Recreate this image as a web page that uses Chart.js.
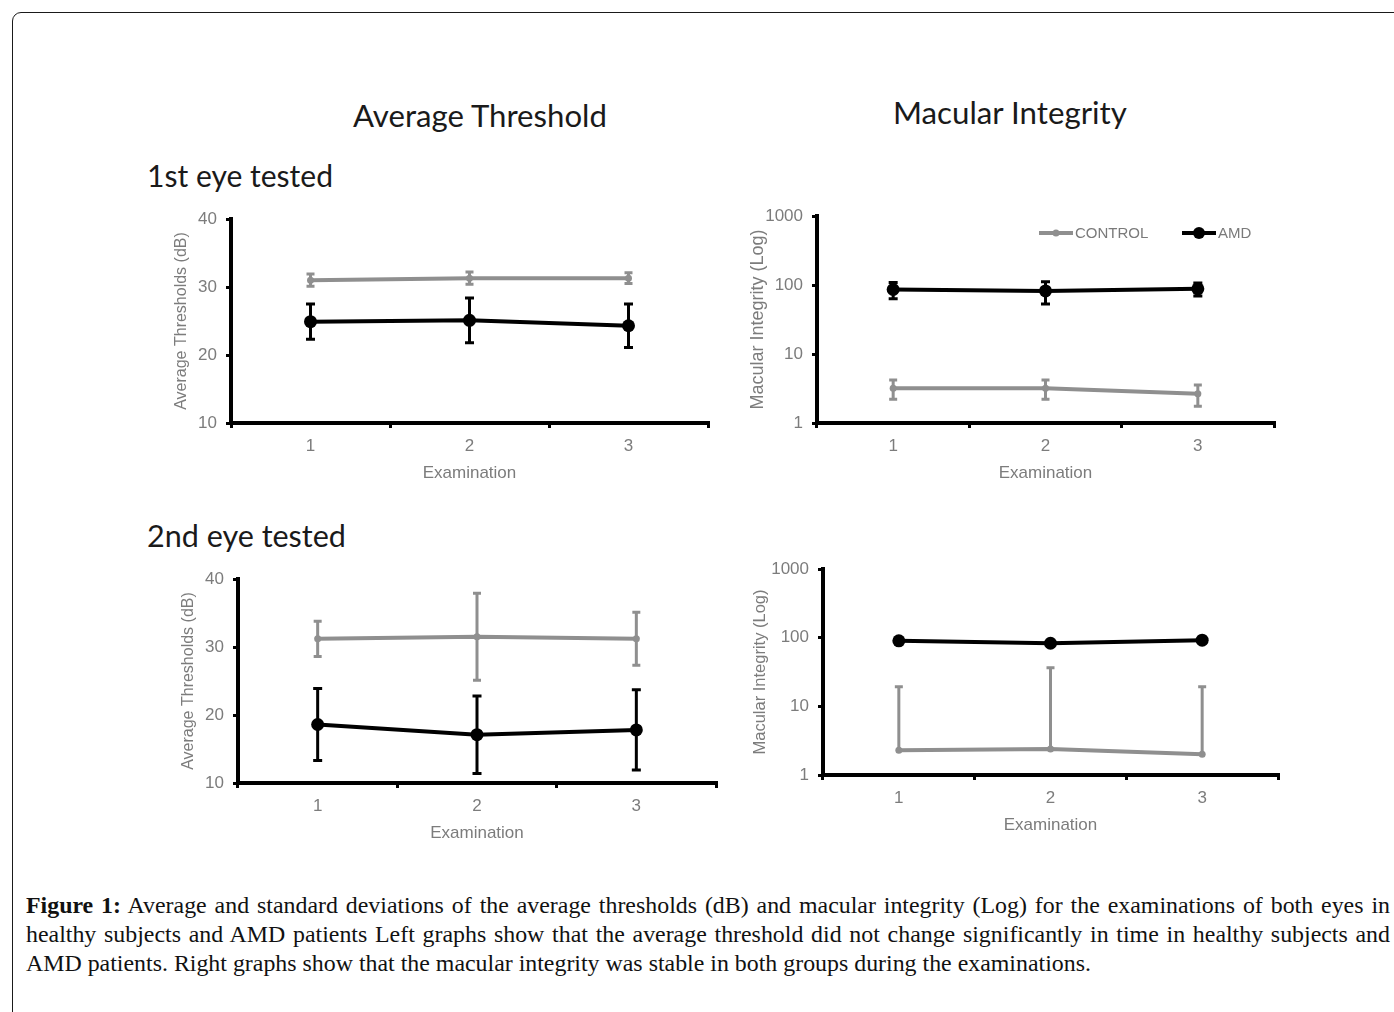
<!DOCTYPE html>
<html><head><meta charset="utf-8">
<script src="https://cdn.jsdelivr.net/npm/chart.js@4.4.1/dist/chart.umd.min.js"></script>
<style>
html,body{margin:0;padding:0;background:#fff;}
body{width:1394px;height:1012px;overflow:hidden;position:relative;}
.frame{position:absolute;left:12px;top:12px;width:1420px;height:1100px;border:1.5px solid #1a1a1a;border-radius:9px;box-sizing:border-box;}
.t{position:absolute;font-family:Lato,"Open Sans",sans-serif;color:#1a1a1a;white-space:nowrap;line-height:1;font-size:30px;}
canvas{position:absolute;}
.cl{position:absolute;left:26px;width:1364px;font-family:"Liberation Serif",serif;font-size:20px;line-height:29px;color:#111;white-space:nowrap;}
.cl.j{text-align:justify;text-align-last:justify;white-space:normal;}
.cl b{font-weight:bold;}
</style></head>
<body>
<div class="frame"></div>
<div id="tA" class="t">Average Threshold</div>
<div id="tM" class="t">Macular Integrity</div>
<div id="t1" class="t">1st eye tested</div>
<div id="t2" class="t">2nd eye tested</div>

<canvas id="c1"></canvas>
<canvas id="c2"></canvas>
<canvas id="c3"></canvas>
<canvas id="c4"></canvas>

<div id="l1" class="cl j"><b>Figure 1:</b> Average and standard deviations of the average thresholds (dB) and macular integrity (Log) for the examinations of both eyes in</div>
<div id="l2" class="cl j">healthy subjects and AMD patients Left graphs show that the average threshold did not change significantly in time in healthy subjects and</div>
<div id="l3" class="cl">AMD patients. Right graphs show that the macular integrity was stable in both groups during the examinations.</div>

<script>
// ---------------- DATA ----------------
const examinations = ['1', '2', '3'];
const seriesNames = ['CONTROL', 'AMD'];
const thresholdTicks = [10, 20, 30, 40];
const integrityTicks = [1, 10, 100, 1000];

// 1st eye tested – Average threshold (dB)
const eye1ThrControl   = [31.0, 31.3, 31.3];
const eye1ThrControlSD = [0.9, 0.9, 0.8];
const eye1ThrAMD       = [24.9, 25.1, 24.3];
const eye1ThrAMDSD     = [2.6, 3.3, 3.2];

// 1st eye tested – Macular integrity (log)
const eye1MacControl   = [3.2, 3.2, 2.65];
const eye1MacControlSD = [1.0, 1.0, 0.9];
const eye1MacAMD       = [86, 82, 88];
const eye1MacAMDSD     = [23, 29, 19];

// 2nd eye tested – Average threshold (dB)
const eye2ThrControl   = [31.2, 31.5, 31.2];
const eye2ThrControlSD = [2.6, 6.4, 3.9];
const eye2ThrAMD       = [18.6, 17.1, 17.8];
const eye2ThrAMDSD     = [5.3, 5.7, 5.9];

// 2nd eye tested – Macular integrity (log)
const eye2MacControl   = [2.3, 2.4, 2.0];
const eye2MacControlSD = [17, 34.2, 17.3];
const eye2MacAMD       = [90, 83, 92];
const eye2MacAMDSD     = [0, 0, 0];

// ---------------- TEXT LAYOUT ----------------
function fitWidth(el, target) {
  const w = el.getBoundingClientRect().width;
  const fs = parseFloat(getComputedStyle(el).fontSize);
  el.style.fontSize = (fs * target / w) + 'px';
}
function placeTitle(id, left, right, baseline) {
  const el = document.getElementById(id);
  fitWidth(el, right - left);
  const fs = parseFloat(el.style.fontSize);
  el.style.left = left + 'px';
  el.style.top = (baseline - 0.887 * fs) + 'px';
}
placeTitle('tA', 353, 607, 128);
placeTitle('tM', 893, 1127, 125);
placeTitle('t1', 147, 333, 187);
placeTitle('t2', 147, 346, 548);

(function caption() {
  const l3 = document.getElementById('l3');
  const probe = document.createElement('span');
  probe.style.cssText = 'font-family:"Liberation Serif",serif;font-size:20px;white-space:nowrap;position:absolute;visibility:hidden';
  probe.textContent = l3.textContent;
  document.body.appendChild(probe);
  const w = probe.getBoundingClientRect().width;
  probe.remove();
  const fs = 20 * 1066 / w;
  const base = [914, 943, 972];
  ['l1', 'l2', 'l3'].forEach((id, i) => {
    const el = document.getElementById(id);
    el.style.fontSize = fs + 'px';
    const half = (29 - 1.107 * fs) / 2;
    el.style.top = (base[i] - half - 0.891 * fs) + 'px';
  });
})();

// ---------------- PLUGINS ----------------
const errorBars = {
  id: 'errorBars',
  beforeDatasetDraw(chart, args) {
    const ds = chart.data.datasets[args.index];
    if (!ds.sd) return;
    const y = chart.scales.y;
    const ctx = chart.ctx;
    ctx.save();
    ctx.strokeStyle = ds.borderColor;
    ctx.lineWidth = ds.errWidth;
    ctx.lineCap = 'butt';
    args.meta.data.forEach((pt, i) => {
      const v = ds.data[i], s = ds.sd[i];
      if (!s) return;
      const x = pt.x;
      const hi = y.getPixelForValue(v + s);
      const low = v - s;
      const hasLow = !(y.type === 'logarithmic' && low <= 0);
      const lo = hasLow ? y.getPixelForValue(low) : pt.y;
      ctx.beginPath();
      ctx.moveTo(x, lo); ctx.lineTo(x, hi);
      ctx.moveTo(x - ds.capHalf, hi); ctx.lineTo(x + ds.capHalf, hi);
      if (hasLow) { ctx.moveTo(x - ds.capHalf, lo); ctx.lineTo(x + ds.capHalf, lo); }
      ctx.stroke();
    });
    ctx.restore();
  }
};

const lineLegend = {
  id: 'lineLegend',
  afterDraw(chart, args, opts) {
    if (!opts || !opts.show) return;
    const ctx = chart.ctx, a = chart.chartArea;
    ctx.save();
    chart.data.datasets.forEach((ds, i) => {
      const x0 = a.left + opts.offsets[i], y = a.top + opts.dy;
      ctx.strokeStyle = ds.borderColor;
      ctx.lineWidth = ds.borderWidth;
      ctx.beginPath(); ctx.moveTo(x0, y); ctx.lineTo(x0 + opts.lineLen, y); ctx.stroke();
      ctx.fillStyle = ds.borderColor;
      ctx.beginPath(); ctx.arc(x0 + opts.lineLen / 2, y, opts.radii[i], 0, Math.PI * 2); ctx.fill();
      ctx.fillStyle = '#7a7a7a';
      ctx.font = '15px "Liberation Sans", Arial, sans-serif';
      ctx.textBaseline = 'middle';
      ctx.textAlign = 'left';
      ctx.fillText(ds.label, x0 + opts.lineLen + 2, y + 1);
    });
    ctx.restore();
  }
};

// ---------------- CHARTS ----------------
const GRAY = '#8f8f8f';
const TEXTGRAY = '#7c7c7c';
const AXW = 95, PADT = 25, PADR = 12, XH = 62;

function makeChart(id, area, isLog, ctrl, ctrlSD, amd, amdSD, yTitle, yTitleSize, yTitleX, legend) {
  const cv = document.getElementById(id);
  const W = area.right - area.left + AXW + PADR;
  const H = area.bottom - area.top + PADT + XH;
  const cl = area.left - AXW, ct = area.top - PADT;
  cv.width = W; cv.height = H;
  cv.style.left = cl + 'px'; cv.style.top = ct + 'px';
  cv.style.width = W + 'px'; cv.style.height = H + 'px';
  const yLH = yTitleSize * 1.2;
  const tickVals = isLog ? integrityTicks : thresholdTicks;
  const yScale = {
    type: isLog ? 'logarithmic' : 'linear',
    min: tickVals[0], max: tickVals[tickVals.length - 1],
    afterBuildTicks: s => { s.ticks = tickVals.map(v => ({ value: v })); },
    afterFit: s => { s.width = AXW; },
    border: { display: true, color: '#000', width: 4 },
    grid: { display: true, drawOnChartArea: false, drawTicks: true, tickLength: 5, color: '#000', lineWidth: 3 },
    ticks: {
      color: TEXTGRAY, padding: 9,
      font: { family: '"Liberation Sans", Arial, sans-serif', size: 17 },
      callback: v => String(v)
    },
    title: {
      display: true, text: yTitle, color: TEXTGRAY,
      font: { family: '"Liberation Sans", Arial, sans-serif', size: yTitleSize },
      padding: { top: (yTitleX - cl) - yLH / 2, bottom: 0 }
    }
  };
  if (!isLog) yScale.ticks.stepSize = 10;
  return new Chart(cv, {
    type: 'line',
    data: {
      labels: examinations,
      datasets: [
        { label: seriesNames[0], data: ctrl, sd: ctrlSD, borderColor: GRAY, backgroundColor: GRAY,
          borderWidth: 4, pointRadius: 3.5, pointBackgroundColor: GRAY, pointBorderWidth: 0,
          errWidth: 3, capHalf: 4, tension: 0, clip: false },
        { label: seriesNames[1], data: amd, sd: amdSD, borderColor: '#000', backgroundColor: '#000',
          borderWidth: 4, pointRadius: 6.5, pointBackgroundColor: '#000', pointBorderWidth: 0,
          errWidth: 3, capHalf: 4.5, tension: 0, clip: false }
      ]
    },
    options: {
      responsive: false, animation: false, devicePixelRatio: 1,
      layout: { padding: { top: PADT, right: PADR, left: 0, bottom: 0 }, autoPadding: false },
      plugins: { legend: { display: false }, tooltip: { enabled: false }, lineLegend: legend || { show: false } },
      scales: {
        x: {
          type: 'category', offset: true,
          afterFit: s => { s.height = XH; },
          border: { display: true, color: '#000', width: 4 },
          grid: { display: true, offset: true, drawOnChartArea: false, drawTicks: true, tickLength: 5, color: '#000', lineWidth: 3 },
          ticks: { color: TEXTGRAY, padding: 8, font: { family: '"Liberation Sans", Arial, sans-serif', size: 17 } },
          title: { display: true, text: 'Examination', color: TEXTGRAY,
                   font: { family: '"Liberation Sans", Arial, sans-serif', size: 17 },
                   padding: { top: 0, bottom: 1 } }
        },
        y: yScale
      }
    },
    plugins: [errorBars, lineLegend]
  });
}

makeChart('c1', { left: 231, right: 708, top: 219, bottom: 423 }, false,
  eye1ThrControl, eye1ThrControlSD, eye1ThrAMD, eye1ThrAMDSD, 'Average Thresholds (dB)', 16, 182);
makeChart('c2', { left: 817, right: 1274, top: 216, bottom: 423 }, true,
  eye1MacControl, eye1MacControlSD, eye1MacAMD, eye1MacAMDSD, 'Macular Integrity (Log)', 18, 758,
  { show: true, offsets: [222, 365], lineLen: 34, dy: 17, radii: [3.5, 6] });
makeChart('c3', { left: 238, right: 716, top: 579, bottom: 783 }, false,
  eye2ThrControl, eye2ThrControlSD, eye2ThrAMD, eye2ThrAMDSD, 'Average Thresholds (dB)', 16, 189);
makeChart('c4', { left: 823, right: 1278, top: 569, bottom: 775 }, true,
  eye2MacControl, eye2MacControlSD, eye2MacAMD, eye2MacAMDSD, 'Macular Integrity (Log)', 16.5, 760);
</script>
</body></html>
